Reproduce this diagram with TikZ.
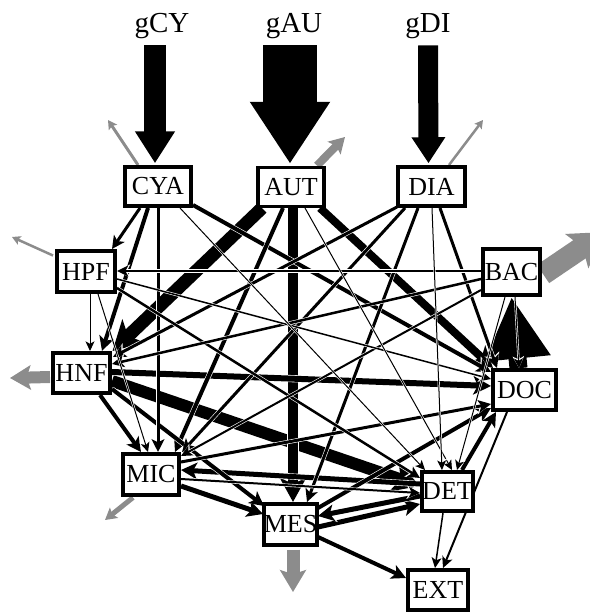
\documentclass[tikz,border=0pt]{standalone}
\usepackage{fontspec}
\setmainfont{Liberation Serif}
\usetikzlibrary{arrows.meta,calc}
\pgfdeclarelayer{bg}
\pgfsetlayers{bg,main}
\definecolor{expgray}{RGB}{140,140,140}
\begin{document}
\begin{tikzpicture}[x=1pt,y=-1pt,
  box/.style={draw, line width=3.5pt, fill=white, inner sep=0pt, font=\fontsize{26}{26}\selectfont},
  lab/.style={font=\fontsize{29}{29}\selectfont, inner sep=0pt, anchor=base},
  fl/.style={line width=#1pt, preaction={draw=white, line width={#1pt+1.2pt}},
     -{Stealth[length=8pt 1.6, width=7pt 1.9, inset=2pt 0.4]}},
  ex/.style={draw=expgray, line width=#1pt, -{Stealth[length=5pt 1.3, width=5pt 1.6, inset=1pt 0.25]}},
  inflow/.style={line width=#1pt}
]
\useasboundingbox (0,0) rectangle (589,613);

% labels
\node[lab] (gCY) at (162,32) {gCY};
\node[lab] (gAU) at (294,32) {gAU};
\node[lab] (gDI) at (428,32) {gDI};

% compartments
\node[box, minimum width=66pt, minimum height=39pt] (CYA) at (158,186.5) {CYA};
\node[box, minimum width=66pt, minimum height=39pt] (AUT) at (291,187) {AUT};
\node[box, minimum width=67pt, minimum height=39pt] (DIA) at (431.5,186.5) {DIA};
\node[box, minimum width=58pt, minimum height=41pt] (HPF) at (86,271.5) {HPF};
\node[box, minimum width=57pt, minimum height=40pt] (HNF) at (81.5,373) {HNF};
\node[box, minimum width=57pt, minimum height=46pt] (BAC) at (511.5,272) {BAC};
\node[box, minimum width=63pt, minimum height=40pt] (DOC) at (524.5,390) {DOC};
\node[box, minimum width=56pt, minimum height=41pt] (MIC) at (151,474.5) {MIC};
\node[box, minimum width=51pt, minimum height=39pt] (DET) at (447.5,491.5) {DET};
\node[box, minimum width=51pt, minimum height=41pt] (MES) at (290.5,524.5) {MES};
\node[box, minimum width=60pt, minimum height=40pt] (EXT) at (438,590) {EXT};

% export end points
\coordinate (oCYA) at (108,120);
\coordinate (oAUT) at (345,137);
\coordinate (oDIA) at (483,120);
\coordinate (oHPF) at (12,237);
\coordinate (oHNF) at (10,378);
\coordinate (oBAC) at (605,232);
\coordinate (oMIC) at (105,520);
\coordinate (oMES) at (293,592);

\begin{pgfonlayer}{bg}
% inputs
\draw[inflow=22, -{Triangle[length=32pt,width=38pt]}] ($(gCY.south)+(-7,7)$) -- ($(CYA.north)+(-3,-2)$);
\draw[inflow=54, -{Triangle[length=62pt,width=76pt]}] ($(gAU.south)+(-4,7)$) -- ($(AUT.north)+(-1,-2)$);
\draw[inflow=20, -{Triangle[length=26pt,width=32pt]}] ($(gDI.south)+(0,7)$) -- ($(DIA.north)+(-3,-2)$);

% exports
\draw[ex=3] ($(CYA)+(-20,-21.5)$) -- (oCYA);
\draw[ex=8] ($(AUT)+(26,-21.5)$) -- (oAUT);
\draw[ex=2.5] ($(DIA)+(17.5,-21.5)$) -- (oDIA);
\draw[ex=2.5] ($(HPF)+(-33,-16)$) -- (oHPF);
\draw[ex=12] ($(HNF)+(-31.5,4)$) -- (oHNF);
\draw[ex=22] ($(BAC)+(31.5,2)$) -- (oBAC);
\draw[ex=5] ($(MIC)+(-18,23)$) -- (oMIC);
\draw[ex=13] ($(MES)+(2.5,25)$) -- (oMES);

% big DOC -> BAC
\draw[line width=18pt, -{Triangle[length=62pt,width=62pt]}] ($(DOC.north)+(-6,0)$) -- (BAC.south);

% flows, thick first
\draw[fl=13] ($(AUT)+(-29,21)$) -- ($(HNF)+(31,-22)$);
\draw[fl=12] ($(HNF)+(30.5,8)$) -- ($(DET)+(-27.5,-5.5)$);
\draw[fl=10] ($(AUT)+(2,21)$) -- ($(MES)+(2.5,-22.5)$);
\draw[fl=8] ($(AUT)+(29,21)$) -- ($(DOC)+(-31.5,-22)$);
\draw[fl=6] ($(HNF)+(30.5,-1)$) -- ($(DOC)+(-33.5,-4)$);
\draw[fl=5] ($(MIC)+(30,11.5)$) -- ($(MES)+(-27.5,-10.5)$);
\draw[fl=5] ($(DET)+(-27.5,-7.5)$) -- ($(MIC)+(30,-4.5)$);
\draw[fl=5] ($(MES)+(27.5,2.5)$) -- ($(DET)+(-27.5,12.5)$);
\draw[fl=5] ($(DET)+(-27.5,4.5)$) -- ($(MES)+(27.5,-8.5)$);
\draw[fl=4] ($(CYA)+(-10,21.5)$) -- ($(HNF)+(20.5,-22)$);
\draw[fl=4] ($(CYA)+(35,18.5)$) -- ($(DOC)+(-33.5,-18)$);
\draw[fl=4] ($(AUT)+(-8,21)$) -- ($(MIC)+(24,-22.5)$);
\draw[fl=4] ($(HNF)+(18.5,22)$) -- ($(MIC)+(-10,-22.5)$);
\draw[fl=4] ($(HNF)+(30.5,16)$) -- ($(MES)+(-26.5,-18.5)$);
\draw[fl=4] ($(MES)+(27.5,-16.5)$) -- ($(DOC)+(-33.5,18)$);
\draw[fl=4] ($(MES)+(27.5,12.5)$) -- ($(EXT)+(-32,-12)$);
\draw[fl=4] ($(DET)+(14.5,-21.5)$) -- ($(DOC)+(-28.5,22)$);
\draw[fl=3] ($(CYA)+(-18,21.5)$) -- ($(HPF)+(26,-22.5)$);
\draw[fl=3] ($(CYA)+(0,21.5)$) -- ($(MIC)+(7,-22.5)$);
\draw[fl=3] ($(DIA)+(-34.5,20.5)$) -- ($(HNF)+(31.5,-16)$);
\draw[fl=3] ($(DIA)+(-26.5,21.5)$) -- ($(MIC)+(31,-22.5)$);
\draw[fl=3] ($(DIA)+(-13.5,21.5)$) -- ($(MES)+(16.5,-22.5)$);
\draw[fl=3] ($(DIA)+(8.5,21.5)$) -- ($(DOC)+(-27.5,-22)$);
\draw[fl=3] ($(MIC)+(30,-12.5)$) -- ($(DOC)+(-33.5,14)$);
\draw[fl=2.5] ($(HPF)+(31,16.5)$) -- ($(DET)+(-27.5,-13.5)$);
\draw[fl=2.5] ($(BAC)+(-30.5,7)$) -- ($(HNF)+(30.5,-9)$);
\draw[fl=2] ($(BAC)+(-30.5,-1)$) -- ($(HPF)+(31,-0.5)$);
\draw[fl=2] ($(BAC)+(-30.5,18)$) -- ($(MIC)+(30,-18.5)$);
\draw[fl=2] ($(MIC)+(30,4.5)$) -- ($(DET)+(-27.5,1.5)$);
\draw[fl=2] ($(DOC)+(-17.5,22)$) -- ($(EXT)+(5,-22)$);
\draw[fl=1.5] ($(HPF)+(31,7.5)$) -- ($(DOC)+(-33.5,-11)$);
\draw[fl=1.5] ($(DET)+(-4.5,21.5)$) -- ($(EXT)+(-3,-22)$);
\draw[fl=1] ($(CYA)+(22,21.5)$) -- ($(DET)+(-22.5,-21.5)$);
\draw[fl=1] ($(AUT)+(14,21)$) -- ($(DET)+(4.5,-21.5)$);
\draw[fl=1] ($(DIA)+(0.5,21.5)$) -- ($(DET)+(-5.5,-21.5)$);
\draw[fl=1] ($(HPF)+(4,22.5)$) -- ($(HNF)+(8.5,-22)$);
\draw[fl=1] ($(HPF)+(12,22.5)$) -- ($(MIC)+(-3,-22.5)$);
\draw[fl=1] ($(BAC)+(-6.5,25)$) -- ($(DET)+(9.5,-21.5)$);
\draw[fl=1] ($(BAC)+(3.5,25)$) -- ($(DOC)+(-5.5,-22)$);
\end{pgfonlayer}
\end{tikzpicture}
\end{document}
